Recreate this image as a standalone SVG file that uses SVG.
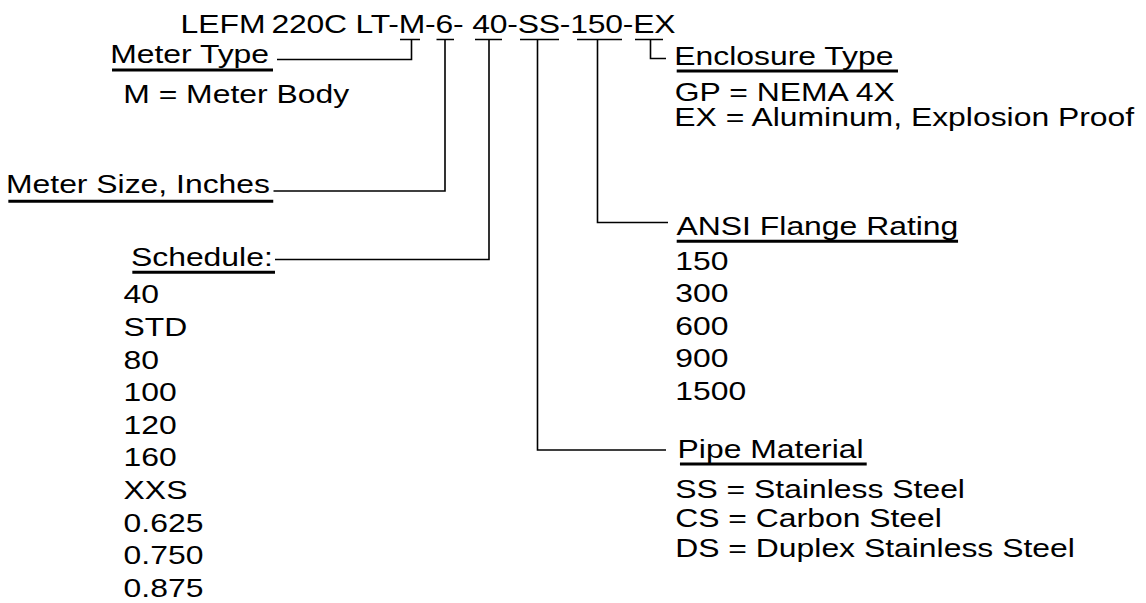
<svg xmlns="http://www.w3.org/2000/svg" width="1146" height="603" viewBox="0 0 1146 603">
<style>
text{font-family:"Liberation Sans",Arial,Helvetica,sans-serif;font-size:25.6px;fill:#000}
.ul{stroke:#000;stroke-width:3;fill:none}
.cn{stroke:#000;stroke-width:1.6;fill:none}
</style>
<rect width="1146" height="603" fill="#fff"/>
<g id="node-code" transform="scale(1.246 1)">
<text x="144.9" y="33">LEFM</text>
<text x="217.9" y="33" textLength="324.3" lengthAdjust="spacing">220C LT-M-6- 40-SS-150-EX</text>
</g>
<g id="node-meter-type" transform="scale(1.246 1)">
<text x="88.4" y="63">Meter Type</text>
<line class="ul" x1="89.9" y1="70" x2="219.1" y2="70"/>
<text x="98.9" y="103">M = Meter Body</text>
</g>
<g id="node-meter-size" transform="scale(1.246 1)">
<text x="4.8" y="193">Meter Size, Inches</text>
<line class="ul" x1="6.7" y1="201.3" x2="219.3" y2="201.3"/>
</g>
<g id="node-schedule" transform="scale(1.246 1)">
<text x="105.1" y="266.5">Schedule:</text>
<line class="ul" x1="106.2" y1="272.3" x2="220.7" y2="272.3"/>
<text x="99.2" y="303.5">40</text>
<text x="99.2" y="336.1">STD</text>
<text x="99.2" y="368.7">80</text>
<text x="99.2" y="401.3">100</text>
<text x="99.2" y="433.9">120</text>
<text x="99.2" y="466.5">160</text>
<text x="99.2" y="499.1">XXS</text>
<text x="99.2" y="531.7">0.625</text>
<text x="99.2" y="564.3">0.750</text>
<text x="99.2" y="596.9">0.875</text>
</g>
<g id="node-enclosure" transform="scale(1.246 1)">
<text x="541.2" y="65">Enclosure Type</text>
<line class="ul" x1="543.1" y1="71" x2="720.7" y2="71"/>
<text x="541.6" y="101.5">GP = NEMA 4X</text>
<text x="541.2" y="126">EX = Aluminum, Explosion Proof</text>
</g>
<g id="node-ansi" transform="scale(1.246 1)">
<text x="543" y="235">ANSI Flange Rating</text>
<line class="ul" x1="543.1" y1="241.3" x2="768.9" y2="241.3"/>
<text x="542" y="270">150</text>
<text x="542" y="302.5">300</text>
<text x="542" y="335">600</text>
<text x="542" y="367.5">900</text>
<text x="542" y="400">1500</text>
</g>
<g id="node-pipe" transform="scale(1.246 1)">
<text x="543.8" y="458">Pipe Material</text>
<line class="ul" x1="545.7" y1="464" x2="695.6" y2="464"/>
<text x="541.9" y="498">SS = Stainless Steel</text>
<text x="541.9" y="527.5">CS = Carbon Steel</text>
<text x="541.9" y="557">DS = Duplex Stainless Steel</text>
</g>
<g id="connectors">
<path class="cn" d="M400,39.5 H420 M411.5,39.5 V59.5 H277"/>
<path class="cn" d="M436.5,39.5 H454 M445,39.5 V191 H273.5"/>
<path class="cn" d="M475,39.5 H502 M489,39.5 V259.5 H275"/>
<path class="cn" d="M520,39.5 H559 M537.5,39.5 V450 H666"/>
<path class="cn" d="M577,39.5 H622 M597.5,39.5 V222.5 H668"/>
<path class="cn" d="M635,39.5 H663 M650.5,39.5 V58.5 H666"/>
</g>
</svg>
